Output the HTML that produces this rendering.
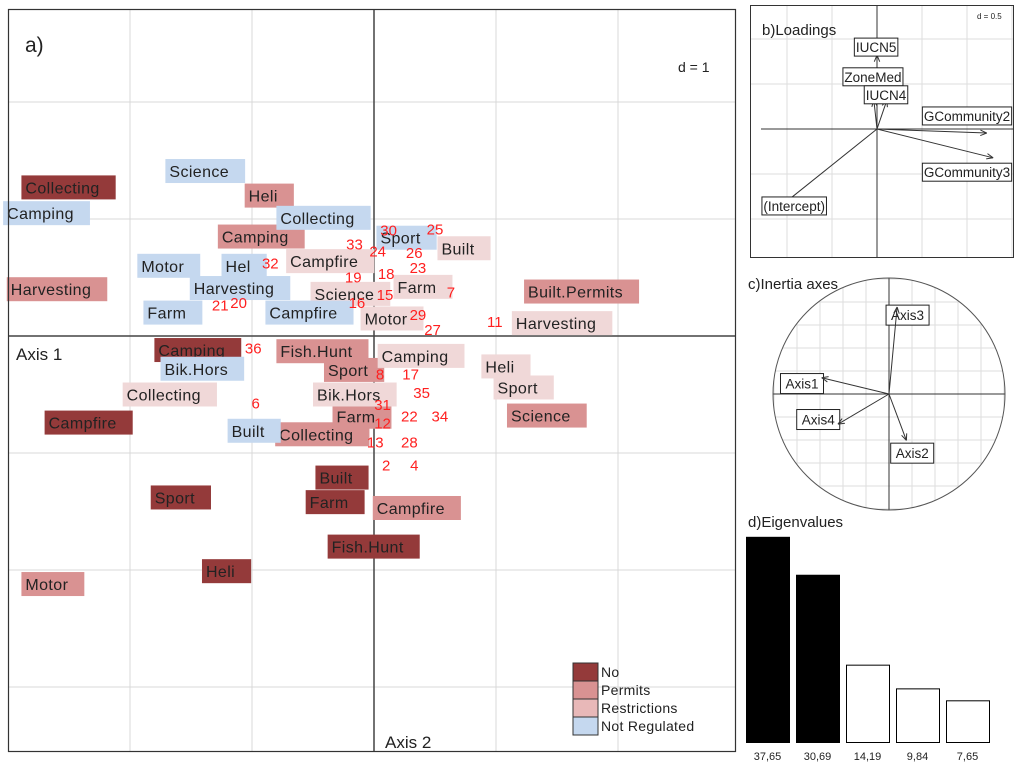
<!DOCTYPE html>
<html><head><meta charset="utf-8">
<style>
html,body{margin:0;padding:0;background:#fff;}
svg{display:block;font-family:"Liberation Sans",Arial,sans-serif;}
</style></head>
<body>
<svg id="fig" width="1024" height="765" viewBox="0 0 1024 765">
  <g id="panelA"></g>
  <g id="panelB"></g>
  <g id="panelC"></g>
  <g id="panelD"></g>
</svg>
<script>
// ---------- Panel a data ----------
const catNames = ["No","Permits","Restrictions","Not Regulated"];
const catColors = ["#943a3a","#d99292","#f0d8d8","#c5d8ef"];
const noLabels = ["Collecting","Camping","Campfire","Built","Farm","Sport","Fish.Hunt","Heli"];
const noX = [-2.89,-1.80,-2.70,-0.48,-0.56,-1.83,-0.38,-1.41];
const noY = [1.27,-0.12,-0.74,-1.21,-1.42,-1.38,-1.80,-2.01];
const permLabels = ["Heli","Camping","Harvesting","Built.Permits","Fish.Hunt","Sport","Farm","Collecting","Science","Motor","Campfire"];
const permX = [-1.06,-1.28,-3.01,1.23,-0.80,-0.41,-0.34,-0.81,1.09,-2.89,-0.01];
const permY = [1.20,0.85,0.40,0.38,-0.13,-0.29,-0.69,-0.84,-0.68,-2.12,-1.47];
const restLabels = ["Campfire","Built","Science","Farm","Motor","Harvesting","Camping","Heli","Sport","Collecting","Bik.Hors"];
const restX = [-0.72,0.52,-0.52,0.16,-0.11,1.13,0.03,0.88,0.98,-2.06,-0.50];
const restY = [0.64,0.75,0.36,0.42,0.15,0.11,-0.17,-0.26,-0.44,-0.50,-0.50];
const nrLabels = ["Science","Camping","Collecting","Motor","Hel","Harvesting","Farm","Campfire","Sport","Bik.Hors","Built"];
const nrX = [-1.71,-3.04,-0.80,-1.94,-1.25,-1.51,-1.89,-0.89,0.02,-1.75,-1.20];
const nrY = [1.41,1.05,1.01,0.60,0.60,0.41,0.20,0.20,0.84,-0.28,-0.81];
const siteIds = ["30","25","33","24","26","32","23","19","18","7","15","16","21","20","29","27","11","36","8","17","35","31","12","22","34","6","13","28","2","4"];
const siteX = [0.12,0.50,-0.16,0.03,0.33,-0.85,0.36,-0.17,0.10,0.63,0.09,-0.14,-1.26,-1.11,0.36,0.48,0.99,-0.99,0.05,0.30,0.39,0.07,0.07,0.29,0.54,-0.97,0.01,0.29,0.10,0.33];
const siteY = [0.91,0.92,0.79,0.73,0.72,0.63,0.59,0.51,0.54,0.38,0.36,0.29,0.27,0.29,0.19,0.06,0.13,-0.10,-0.32,-0.32,-0.48,-0.58,-0.74,-0.68,-0.68,-0.57,-0.90,-0.90,-1.10,-1.10];
// ---------- Panel b data ----------
const loadNames = ["IUCN5","ZoneMed","IUCN4","GCommunity2","GCommunity3","(Intercept)"];
const loadX = [0,-0.07,0.22,2.44,2.58,-2.11];
const loadY = [1.64,0.64,0.64,-0.09,-0.64,-1.69];
const loadLabX = [-0.02,-0.09,0.20,2.0,2.0,-1.84];
const loadLabY = [1.82,1.16,0.76,0.29,-0.96,-1.71];
// ---------- Panel c data ----------
const axNames = ["Axis1","Axis2","Axis3","Axis4"];
const axX = [-0.58,0.15,0.07,-0.44];
const axY = [0.14,-0.40,0.75,-0.26];
const axLabX = [-0.75,0.20,0.16,-0.61];
const axLabY = [0.09,-0.51,0.68,-0.22];
// ---------- Panel d data ----------
const eigVals = [37.65,30.69,14.19,9.84,7.65];
const eigLabels = ["37,65","30,69","14,19","9,84","7,65"];

const NS="http://www.w3.org/2000/svg";
function mk(parent,tag,attrs){const e=document.createElementNS(NS,tag);for(const k in attrs)e.setAttribute(k,attrs[k]);parent.appendChild(e);return e;}

// ---------- Panel a ----------
(function(){
  const g=document.getElementById('panelA');
  const cx=374, cy=336, ux=122, uy=117;
  const X=v=>cx+v*ux, Y=v=>cy-v*uy;
  for(let i=-3;i<=3;i++){const x=X(i); if(x>8&&x<736&&i!==0){const l=mk(g,'line',{x1:x,y1:10,x2:x,y2:752,stroke:'#d8d8d8','stroke-width':1});

}}
  for(let j=-4;j<=3;j++){const y=Y(j); if(y>10&&y<752&&j!==0){const l=mk(g,'line',{x1:8,y1:y,x2:736,y2:y,stroke:'#d8d8d8','stroke-width':1});

}}
  const ax1=mk(g,'line',{x1:8,y1:Y(0),x2:736,y2:Y(0),stroke:'#444','stroke-width':1.5});
  
  
  const ax2=mk(g,'line',{x1:X(0),y1:10,x2:X(0),y2:752,stroke:'#444','stroke-width':1.5});
  
  
  const groups=[[noLabels,noX,noY,0],[permLabels,permX,permY,1],[restLabels,restX,restY,2],[nrLabels,nrX,nrY,3]];
  groups.forEach(([labs,xs,ys,c])=>{
    labs.forEach((t,i)=>{
      const gg=mk(g,'g',{});
      
      
      const r=mk(gg,'rect',{x:X(xs[i]),y:Y(ys[i])-12,width:60,height:24,fill:catColors[c]});
      const tx=mk(gg,'text',{x:X(xs[i])+4,y:Y(ys[i])+6,'font-size':16,fill:'#222','letter-spacing':0.4});
      tx.textContent=t;
      const w=tx.getComputedTextLength();
      r.setAttribute('width',w+20);
    });
  });
  siteIds.forEach((t,i)=>{
    const tx=mk(g,'text',{x:X(siteX[i]),y:Y(siteY[i])+6,'font-size':15,fill:'#ff2020','text-anchor':'middle'});
    
    
    tx.textContent=t;
  });
  const b=mk(g,'rect',{x:8.5,y:9.5,width:727,height:742,fill:'none',stroke:'#333','stroke-width':1.2});
  
  
  const ta=mk(g,'text',{x:25,y:52,'font-size':21,fill:'#222'}); ta.textContent='a)';
  
  
  const td=mk(g,'text',{x:678,y:72,'font-size':14,fill:'#222'}); td.textContent='d = 1';
  
  
  const t1=mk(g,'text',{x:16,y:360,'font-size':17,fill:'#222'}); t1.textContent='Axis 1';
  
  
  const t2=mk(g,'text',{x:385,y:748,'font-size':17,fill:'#222'}); t2.textContent='Axis 2';
  
  
  catNames.forEach((n,i)=>{
    const lg=mk(g,'g',{});
    
    
    const col=i===2?'#e8b8b8':catColors[i];
    mk(lg,'rect',{x:573,y:663+i*18,width:25,height:18,fill:col,stroke:'#333','stroke-width':1});
    const t=mk(lg,'text',{x:601,y:677+i*18,'font-size':14,fill:'#222','letter-spacing':0.3}); t.textContent=n;
  });
})();

// ---------- Panel b ----------
(function(){
  const g=document.getElementById('panelB');
  const cx=877, cy=129, u=45;
  const X=v=>cx+v*u, Y=v=>cy-v*u;
  for(let i=-2;i<=3;i++){const x=X(i); if(x>751&&x<1013&&i!==0) mk(g,'line',{x1:x,y1:6,x2:x,y2:257,stroke:'#ddd'});}
  for(let j=-3;j<=2;j++){const y=Y(j); if(y>6&&y<257&&j!==0) mk(g,'line',{x1:751,y1:y,x2:1013,y2:y,stroke:'#ddd'});}
  mk(g,'line',{x1:761,y1:cy,x2:1013,y2:cy,stroke:'#333'});
  mk(g,'line',{x1:cx,y1:6,x2:cx,y2:257,stroke:'#333'});
  loadNames.forEach((n,i)=>{
    const a=mk(g,'g',{});
    
    
    const x2=X(loadX[i]),y2=Y(loadY[i]);
    mk(a,'line',{x1:cx,y1:cy,x2:x2,y2:y2,stroke:'#333'});
    const ang=Math.atan2(y2-cy,x2-cx);
    [0.4,-0.4].forEach(d=>mk(a,'line',{x1:x2,y1:y2,x2:x2-7*Math.cos(ang+d),y2:y2-7*Math.sin(ang+d),stroke:'#333'}));
    const lx=X(loadLabX[i]),ly=Y(loadLabY[i]);
    const t=mk(a,'text',{x:lx,y:ly+5,'font-size':13.5,fill:'#222','text-anchor':'middle'}); t.textContent=n;
    const w=t.getComputedTextLength()+3;
    const r=mk(a,'rect',{x:lx-w/2,y:ly-9,width:w,height:18,fill:'#fff',stroke:'#222'});
    a.insertBefore(r,t);
  });
  mk(g,'rect',{x:750.5,y:5.5,width:263,height:252,fill:'none',stroke:'#333'});
  const t=mk(g,'text',{x:762,y:35,'font-size':15,fill:'#222'}); t.textContent='b)Loadings';
  
  
  const d=mk(g,'text',{x:977,y:19,'font-size':8,fill:'#222'}); d.textContent='d = 0.5';
})();

// ---------- Panel c ----------
(function(){
  const g=document.getElementById('panelC');
  const cx=889, cy=394, R=116;
  const X=v=>cx+v*R, Y=v=>cy-v*R;
  const step=23;
  for(let k=-5;k<=5;k++){
    const o=k*step; if(Math.abs(o)>=R||k===0) continue;
    const h=Math.sqrt(R*R-o*o);
    mk(g,'line',{x1:cx+o,y1:cy-h,x2:cx+o,y2:cy+h,stroke:'#ddd'});
    mk(g,'line',{x1:cx-h,y1:cy+o,x2:cx+h,y2:cy+o,stroke:'#ddd'});
  }
  mk(g,'line',{x1:cx-R,y1:cy,x2:cx+R,y2:cy,stroke:'#333'});
  mk(g,'line',{x1:cx,y1:cy-R,x2:cx,y2:cy+R,stroke:'#333'});
  const c=mk(g,'circle',{cx:cx,cy:cy,r:R,fill:'none',stroke:'#555'});
  
  
  axNames.forEach((n,i)=>{
    const a=mk(g,'g',{});
    
    
    const x2=X(axX[i]),y2=Y(axY[i]);
    const lx=X(axLabX[i]),ly=Y(axLabY[i]);
    const t=mk(a,'text',{x:lx,y:ly+5,'font-size':13.5,fill:'#222','text-anchor':'middle'}); t.textContent=n;
    const w=t.getComputedTextLength()+10;
    const r=mk(a,'rect',{x:lx-w/2,y:ly-10,width:w,height:20,fill:'#fff',stroke:'#222'});
    a.insertBefore(r,t);
    mk(a,'line',{x1:cx,y1:cy,x2:x2,y2:y2,stroke:'#333'});
    const ang=Math.atan2(y2-cy,x2-cx);
    [0.4,-0.4].forEach(d=>mk(a,'line',{x1:x2,y1:y2,x2:x2-7*Math.cos(ang+d),y2:y2-7*Math.sin(ang+d),stroke:'#333'}));
  });
  const t=mk(g,'text',{x:748,y:289,'font-size':15,fill:'#222'}); t.textContent='c)Inertia axes';
  
  
})();

// ---------- Panel d ----------
(function(){
  const g=document.getElementById('panelD');
  const base=742, scale=5.45, x0=746, bw=43, gap=50;
  eigVals.forEach((v,i)=>{
    const h=v*scale;
    const r=mk(g,'rect',{x:x0+i*gap+0.5,y:base-h+0.5,width:bw,height:h,fill:i<2?'#000':'#fff',stroke:'#000'});
    
    
    const t=mk(g,'text',{x:x0+i*gap+bw/2,y:760,'font-size':11,fill:'#222','text-anchor':'middle'});
    
    
    t.textContent=eigLabels[i];
  });
  const t=mk(g,'text',{x:748,y:527,'font-size':15,fill:'#222'}); t.textContent='d)Eigenvalues';
  
  
})();
</script>
</body></html>
